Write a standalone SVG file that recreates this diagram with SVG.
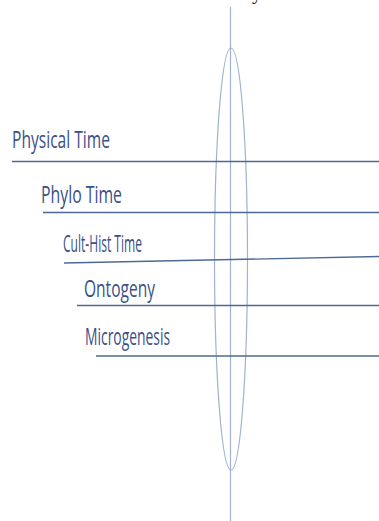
<svg xmlns="http://www.w3.org/2000/svg" width="379" height="521" viewBox="0 0 379 521">
<style>
.lbl{font-family:"Open Sans","Liberation Sans",sans-serif;font-size:23px;fill:#3a5088}
.tl{stroke:#4d6a96;stroke-width:1.4;fill:none}
.ax{stroke:#9fb2cf;stroke-width:1.2;fill:none}
</style>
<rect width="379" height="521" fill="#ffffff"/>
<text x="252" y="-1" style="font-family:'Liberation Serif',serif;font-size:20px;fill:#111">y</text>
<g id="axis">
<line class="ax" x1="230.5" y1="7" x2="230.5" y2="521"/>
<ellipse class="ax" cx="231" cy="259" rx="16.5" ry="211"/>
</g>
<g id="connectors">
<line class="tl" x1="12" y1="161.5" x2="379" y2="161.5"/>
<line class="tl" x1="43" y1="212.5" x2="379" y2="212.5"/>
<line class="tl" x1="64" y1="263" x2="379" y2="256.5"/>
<line class="tl" x1="77" y1="305.5" x2="379" y2="305.5"/>
<line class="tl" x1="96" y1="356" x2="379" y2="356"/>
</g>
<g id="physical"><text class="lbl" x="12" y="148" textLength="98" lengthAdjust="spacingAndGlyphs">Physical Time</text></g>
<g id="phylo"><text class="lbl" x="41" y="202.5" textLength="81" lengthAdjust="spacingAndGlyphs">Phylo Time</text></g>
<g id="culthist"><text class="lbl" x="63" y="252" textLength="79" lengthAdjust="spacingAndGlyphs">Cult-Hist Time</text></g>
<g id="ontogeny"><text class="lbl" x="84" y="296.5" textLength="71" lengthAdjust="spacingAndGlyphs">Ontogeny</text></g>
<g id="microgenesis"><text class="lbl" x="85" y="345" textLength="85" lengthAdjust="spacingAndGlyphs">Microgenesis</text></g>
</svg>
